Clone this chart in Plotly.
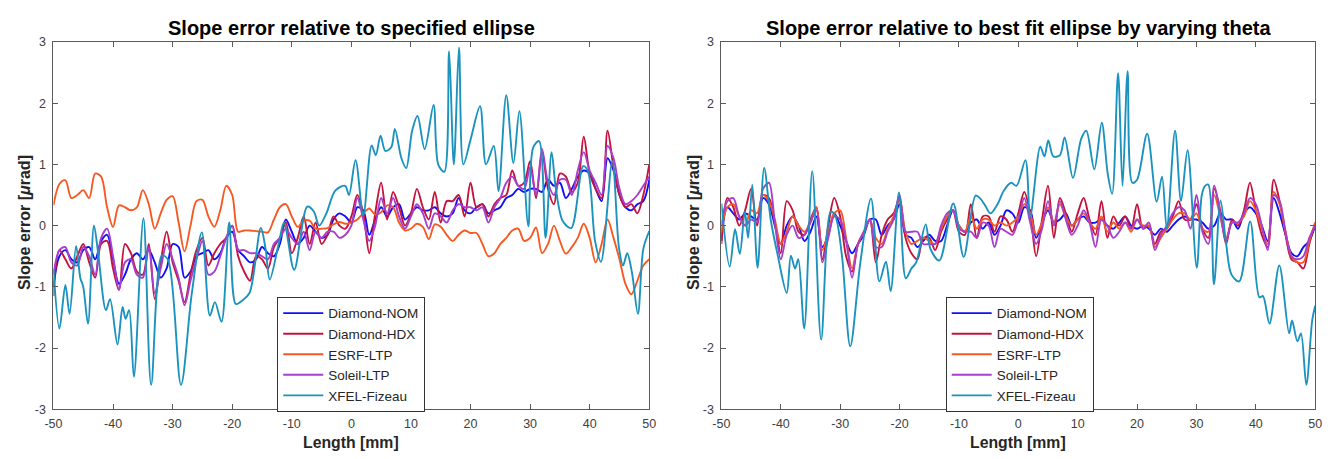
import plotly.graph_objects as go

# ---------------- data ----------------
length_mm = list(range(-50, 51))

series_names = ["Diamond-NOM", "Diamond-HDX", "ESRF-LTP", "Soleil-LTP", "XFEL-Fizeau"]
series_colors = ["#1010F5", "#C4143E", "#F65A24", "#A63FCB", "#1C93BE"]

# Left panel: slope error relative to specified ellipse (urad), 1 mm steps
left_nom = [
    -1.0, -0.5, -0.4, -0.55, -0.6, -0.4, -0.35, -0.55, -0.25, -0.15,
    -0.55, -0.95, -0.8, -0.55, -0.45, -0.55, -0.4, -0.6, -0.85, -0.7,
    -0.3, -0.35, -0.85, -0.75, -0.5, -0.45, -0.4, -0.55, -0.45, -0.2,
    -0.1, -0.4, -0.5, -0.6, -0.55, -0.35, -0.45, -0.5, -0.3, 0.1,
    -0.1, -0.3, -0.2, 0.0, -0.1, -0.2, -0.15, 0.1, 0.2, 0.15,
    0.05,
    0.3, 0.25, -0.15, 0.1, 0.3, 0.15, 0.3, 0.35, 0.1, 0.2,
    0.3, 0.25, 0.25, 0.3, 0.2, 0.15, 0.2, 0.45, 0.25, 0.2,
    0.3, 0.35, 0.2, 0.25, 0.3, 0.45, 0.5, 0.6, 0.55, 0.6,
    0.6, 0.55, 0.75, 0.65, 0.7, 0.45, 0.6, 0.8, 0.9, 0.85,
    0.6, 0.4, 1.1, 0.9, 0.5, 0.3, 0.25, 0.35, 0.4, 0.75,
]
left_hdx = [
    -1.15, -0.4, -0.55, -0.7, -0.5, -0.3, -0.6, -0.85, -0.3, -0.25,
    -0.7, -1.05, -0.3, -0.45, -0.75, -0.8, -0.3, -1.2, -0.6, -0.1,
    -0.6, -0.9, -1.25, -0.8, -0.4, -0.2, -0.65, -0.45, -0.3, -0.2,
    0.0, -0.5, -0.75, -0.9, -0.5, -0.55, -0.7, -0.35, -0.2, 0.05,
    -0.45, -0.2, 0.15, -0.3, 0.05, -0.3, -0.15, 0.15, 0.0, -0.05,
    0.15,
    0.5, 0.2, -0.45, 0.2, 0.7, 0.1, 0.55, 0.3, 0.0, 0.2,
    0.6, 0.3, 0.1, 0.55, 0.05, 0.4, 0.4, 0.5, 0.15, 0.7,
    0.3, 0.35, 0.15, 0.35, 0.45, 0.5, 0.9, 0.65, 0.7, 1.05,
    0.45, 1.2, 0.6, 0.35, 0.85, 0.8, 0.55, 0.7, 1.45, 0.85,
    0.6, 0.45, 1.55, 0.95, 0.5, 0.3, 0.35, 0.2, 0.5, 1.0,
]
left_esrf = [
    0.33, 0.68, 0.74, 0.45, 0.5, 0.58, 0.45, 0.85, 0.8, 0.3,
    -0.02, 0.33, 0.3, 0.25, 0.3, 0.58, 0.35, -0.05, 0.2, 0.42,
    0.48, 0.05, -0.42, 0.0, 0.4, 0.42, 0.15, -0.02, 0.25, 0.65,
    0.5, -0.1, -0.08, -0.08, -0.09, -0.1, -0.11, 0.1, 0.3, 0.35,
    0.15, -0.02, 0.08, 0.08, -0.05, -0.05, -0.04, 0.02, 0.06, 0.03,
    0.05,
    0.1, 0.2, 0.28, 0.18, 0.22, 0.33, 0.3, 0.05, -0.08, -0.05,
    0.03, -0.02, -0.22, 0.02, -0.02, -0.15, -0.25, -0.15, -0.08, -0.12,
    -0.12, -0.3, -0.5, -0.45, -0.3, -0.2, -0.08, -0.05, -0.25, -0.2,
    -0.03, -0.45, -0.3, 0.0, -0.25, -0.46, -0.35, -0.2, 0.03, -0.2,
    -0.6, -0.3, 0.1, -0.2, -0.55, -0.95, -1.12, -0.9, -0.65, -0.55,
]
left_soleil = [
    -0.8, -0.4, -0.35, -0.6, -0.65, -0.35, -0.5, -0.8, -0.2, -0.05,
    -0.5, -1.05, -0.6, -0.55, -0.8, -0.85, -0.35, -1.1, -0.7, -0.3,
    -0.55, -0.85, -1.3, -0.9, -0.55, -0.25, -0.8, -0.75, -0.5, -0.2,
    0.0, -0.4, -0.4, -0.45, -0.45, -0.5, -0.55, -0.3, -0.2, -0.05,
    -0.2, -0.3, -0.1, -0.4, -0.1, -0.2, -0.1, -0.1, -0.2, -0.15,
    0.0,
    0.45, 0.1, -0.25, 0.0, 0.45, 0.2, 0.45, 0.15, -0.05, 0.15,
    0.35, 0.2, -0.05, 0.2, 0.15, 0.05, 0.25, 0.35, 0.3, 0.3,
    0.25, 0.3, 0.05, 0.3, 0.45, 0.7, 0.8, 0.65, 0.6, 0.95,
    0.5, 1.25, 0.7, 0.5, 0.75, 0.75, 0.5, 0.9, 1.2, 0.9,
    0.7, 0.5, 1.3, 1.1, 0.6, 0.35, 0.4, 0.5, 0.65, 0.8,
]
left_xfel_len = [
    -50.0, -49.0, -48.0, -47.3, -46.2, -45.5, -45.0, -44.2, -43.2, -42.5,
    -41.2, -40.5, -39.25, -38.4, -37.9, -37.3, -36.5, -34.9, -33.6, -31.8,
    -30.8, -28.6, -26.8, -25.1, -23.75, -22.9, -21.8, -20.5, -19.4, -18.4,
    -17.1, -15.2, -14.4, -13.7, -12.2, -11.3, -9.6, -7.4, -6.3, -5.4,
    -4.2, -2.7, -1.05, -0.4, 0.7, 2.0, 3.4, 4.1, 4.9, 5.7,
    6.7, 7.3, 8.4, 9.2, 10.2, 11.1, 12.3, 13.8, 14.6, 15.6,
    16.4, 17.2, 18.06, 18.8, 20.0, 21.6, 22.6, 23.9, 24.7, 26.0,
    27.2, 28.2, 29.7, 30.5, 31.5, 32.6, 33.6, 34.3, 35.5, 36.9,
    38.9, 39.7, 40.9, 41.9, 43.8, 44.9, 45.6, 46.3, 47.1, 48.1,
    49.0, 50.0,
]
left_xfel = [
    -0.7, -1.68, -0.97, -1.44, -0.33, -0.85, -1.0, -1.6, 0.0, -0.45,
    -1.38, -1.2, -1.94, -1.33, -1.52, -1.38, -2.47, 0.12, -2.6, -0.49,
    -0.55, -2.6, -1.12, -0.11, -1.47, -1.25, -1.57, 0.05, -1.28, -1.23,
    -1.1, -0.04, -0.38, -0.88, -0.3, 0.05, -0.72, 0.31, 0.23, 0.0,
    0.2, 0.57, 0.65, 0.5, 1.07, 0.17, 1.31, 1.15, 1.47, 1.22,
    1.28, 1.58, 1.1, 0.94, 1.55, 1.79, 1.25, 1.97, 0.99, 0.88,
    2.85, 1.0, 2.91, 1.0, 1.4, 1.95, 1.0, 1.3, 0.56, 2.13,
    1.02, 1.87, -0.01, 1.27, 1.38, -0.2, 1.2, 0.62, 0.07, -0.04,
    0.97, 0.89, -0.25, -0.59, 1.05, -0.35, -0.65, -0.45, -0.77, -1.44,
    -0.38, -0.09,
]

# Right panel: slope error relative to best fit ellipse by varying theta
right_nom = [
    -0.25, 0.3, 0.2, 0.1, 0.2, 0.15, 0.1, 0.45, 0.35, 0.0,
    -0.3, 0.0, 0.15, 0.0, -0.25, -0.1, 0.15, -0.35, -0.15, 0.2,
    0.0, -0.25, -0.45, -0.3, -0.15, 0.1, 0.1, -0.15, 0.0, 0.1,
    0.35, -0.15, -0.2, -0.35, -0.25, -0.15, -0.25, -0.25, 0.0, 0.25,
    0.0, -0.1, 0.05, 0.1, -0.05, 0.05, -0.15, 0.0, 0.25, 0.2,
    0.05,
    0.3, 0.25, -0.2, 0.05, 0.25, 0.05, 0.1, 0.2, 0.0, 0.1,
    0.15, 0.05, 0.05, 0.1, 0.0, -0.05, 0.05, 0.15, 0.0, -0.05,
    0.0, -0.05, -0.15, -0.05, -0.1, 0.0, 0.1, 0.15, 0.1, 0.1,
    0.05, -0.05, 0.0, 0.2, 0.1, 0.1, -0.05, 0.2, 0.3, 0.2,
    0.0, -0.25, 0.45, 0.2, -0.15, -0.45, -0.5, -0.35, -0.25, 0.0,
]
right_hdx = [
    -0.3, 0.45, 0.3, 0.0, 0.25, 0.6, 0.0, 0.5, 0.45, 0.05,
    -0.45, 0.4, 0.25, -0.1, -0.15, 0.1, 0.3, -0.55, 0.0, 0.45,
    0.15, -0.5, -0.75, -0.3, -0.1, 0.1, -0.6, -0.15, 0.1, 0.2,
    0.45, -0.2, -0.45, -0.55, -0.2, -0.2, -0.4, -0.1, 0.1, 0.25,
    -0.1, -0.15, 0.35, -0.2, 0.15, 0.15, -0.1, 0.15, 0.1, -0.1,
    0.2,
    0.55, 0.2, -0.5, 0.1, 0.65, -0.2, 0.45, 0.2, -0.1, 0.2,
    0.45, 0.1, -0.15, 0.4, -0.2, 0.15, 0.0, 0.15, -0.05, 0.35,
    -0.05, 0.0, -0.3, -0.1, -0.05, 0.15, 0.4, 0.1, 0.1, 0.35,
    -0.05, -0.2, 0.6, 0.25, -0.3, 0.1, 0.0, 0.25, 0.7, 0.25,
    -0.15, -0.35, 0.75, 0.4, -0.15, -0.55, -0.6, -0.7, -0.3, 0.05,
]
right_esrf = [
    -0.1, 0.3, 0.35, 0.15, 0.0, 0.25, 0.2, 0.5, 0.4, 0.1,
    -0.3, -0.1, 0.15, 0.0, -0.1, 0.05, 0.3, -0.4, -0.1, 0.2,
    0.25, -0.2, -0.7, -0.3, -0.1, 0.1, -0.2, -0.3, -0.05, 0.15,
    0.4, -0.1, -0.3, -0.25, -0.2, -0.25, -0.3, -0.05, 0.15, 0.25,
    0.0, -0.1, 0.15, -0.05, 0.1, 0.1, 0.0, 0.05, 0.0, 0.05,
    0.15,
    0.35, 0.2, -0.15, 0.05, 0.3, 0.05, 0.35, 0.15, 0.0, 0.1,
    0.2, 0.05, -0.05, 0.15, -0.1, 0.05, -0.05, 0.05, -0.1, 0.1,
    0.0, 0.0, -0.35, -0.2, -0.05, 0.1, 0.2, 0.2, 0.1, 0.2,
    -0.05, -0.1, 0.5, 0.15, -0.2, 0.05, 0.05, 0.15, 0.4, 0.25,
    -0.05, -0.3, 0.55, 0.35, -0.1, -0.5, -0.6, -0.6, -0.25, 0.05,
]
right_soleil = [
    0.0, 0.4, 0.45, 0.15, 0.0, 0.1, 0.05, 0.6, 0.7, 0.05,
    -0.55, -0.15, 0.0, -0.2, -0.15, 0.05, 0.25, -0.6, -0.2, 0.15,
    0.1, -0.25, -0.85, -0.3, -0.1, 0.1, -0.35, -0.35, -0.1, 0.1,
    0.5, -0.1, -0.1, -0.1, -0.3, -0.3, -0.3, 0.0, 0.2, 0.25,
    -0.05, -0.1, -0.1, -0.2, 0.05, 0.0, -0.35, -0.05, -0.1, -0.15,
    0.1,
    0.45, 0.05, -0.3, -0.05, 0.4, 0.0, 0.4, 0.1, -0.15, 0.0,
    0.25, 0.05, -0.35, 0.1, 0.0, -0.2, -0.1, 0.05, -0.05, 0.1,
    -0.05, 0.05, -0.4, -0.15, 0.0, 0.2, 0.3, 0.25, -0.05, 0.5,
    -0.1, -0.3, 0.65, 0.2, -0.25, 0.05, 0.05, 0.2, 0.45, 0.35,
    0.0, -0.4, 0.5, 0.4, -0.1, -0.5, -0.55, -0.5, -0.2, 0.0,
]
right_xfel_len = [
    -50.0, -48.6, -47.7, -46.9, -46.05, -45.5, -44.8, -43.9, -42.8, -41.7,
    -40.5, -39.0, -38.3, -37.6, -37.05, -36.05, -34.7, -33.2, -31.6, -30.8,
    -29.7, -28.3, -26.6, -24.8, -23.4, -22.3, -21.5, -20.1, -18.95, -18.0,
    -17.2, -15.6, -14.8, -13.3, -10.95, -9.2, -7.2, -6.4, -5.6, -4.7,
    -3.5, -2.45, -1.2, -0.3, 1.2, 2.0, 3.7, 4.4, 5.05, 5.9,
    7.0, 7.8, 9.2, 10.6, 11.45, 12.8, 14.05, 15.05, 15.8, 16.8,
    17.55, 18.4, 19.2, 20.0, 21.7, 23.3, 24.2, 25.0, 26.4, 27.4,
    28.5, 30.05, 30.9, 31.45, 32.0, 32.95, 34.05, 35.0, 35.9, 37.2,
    39.05, 40.6, 41.2, 42.3, 43.95, 45.6, 46.1, 47.0, 47.6, 48.5,
    49.5, 50.0,
]
right_xfel = [
    0.36, -0.67, -0.06, -0.46, 0.23, -0.2, 0.67, -0.69, 0.94, 0.1,
    -0.49, -1.1, -0.49, -0.7, -0.55, -1.68, 0.89, -1.86, 0.23, 0.15,
    -0.49, -1.97, -0.6, 0.44, -0.91, -0.59, -1.07, 0.54, -0.86, -0.7,
    -0.6, 0.02, -0.38, -0.57, 0.36, -0.51, 0.49, 0.44, 0.33, 0.2,
    0.35, 0.57, 0.7, 0.65, 1.07, 0.15, 1.29, 1.13, 1.39, 1.13,
    1.15, 1.44, 0.78, 1.42, 1.55, 0.92, 1.68, 0.85, 0.52, 2.49,
    0.65, 2.52, 0.7, 0.75, 1.5, 0.39, 0.8, -0.05, 1.55, 0.4,
    1.23, -0.69, 0.5, 0.65, 0.67, -0.96, 0.41, -0.3, -0.8, -0.91,
    0.07, -1.17, -1.15, -1.6, -0.65, -1.76, -1.55, -1.89, -1.76, -2.6,
    -1.54, -1.31,
]

x_tick_vals = [-50, -40, -30, -20, -10, 0, 10, 20, 30, 40, 50]
x_tick_text = ["-50", "-40", "-30", "-20", "-10", "0", "10", "20", "30", "40", "50"]
y_tick_vals = [-3, -2, -1, 0, 1, 2, 3]
y_tick_text = ["-3", "-2", "-1", "0", "1", "2", "3"]

panel_titles = ["Slope error relative to specified ellipse",
                "Slope error relative to best fit ellipse by varying theta"]
x_title = "Length [mm]"
y_title = "Slope error [<i>μ</i>rad]"

# ---------------- figure ----------------
W, H = 1341, 459
FONT = "Liberation Sans, Arial, sans-serif"
AX = "#5a5a5a"

fig = go.Figure()

panels = [
    ("x", "y", "legend",
     [(length_mm, left_nom), (length_mm, left_hdx), (length_mm, left_esrf),
      (length_mm, left_soleil), (left_xfel_len, left_xfel)]),
    ("x2", "y2", "legend2",
     [(length_mm, right_nom), (length_mm, right_hdx), (length_mm, right_esrf),
      (length_mm, right_soleil), (right_xfel_len, right_xfel)]),
]
for xa, ya, lg, data in panels:
    for (xs, ys), name, col in zip(data, series_names, series_colors):
        fig.add_trace(go.Scatter(
            x=xs, y=ys, name=name, xaxis=xa, yaxis=ya, legend=lg,
            mode="lines", line=dict(color=col, width=1.9, shape="spline", smoothing=0.9),
            hoverinfo="skip"))

def px_x(p):
    return p / W

def px_y(p):
    return 1 - p / H

y_dom = [px_y(415), px_y(36)]
x_doms = [[px_x(45), px_x(648)], [px_x(721), px_x(1322)]]

axis_common = dict(
    showline=True, linecolor=AX, linewidth=1, mirror="ticks",
    ticks="inside", ticklen=5, tickwidth=1, tickcolor=AX,
    showgrid=False, zeroline=False,
    tickfont=dict(family=FONT, size=12.5, color="#404040"),
)

for i, (xd) in enumerate(x_doms):
    sfx = "" if i == 0 else "2"
    fig.layout["xaxis" + sfx] = dict(
        domain=xd, anchor="y" + sfx, range=[-50, 50],
        tickmode="array", tickvals=x_tick_vals, ticktext=x_tick_text,
        ticklabelstandoff=3,
        **axis_common)
    fig.layout["yaxis" + sfx] = dict(
        domain=y_dom, anchor="x" + sfx, range=[-3, 3],
        tickmode="array", tickvals=y_tick_vals, ticktext=y_tick_text,
        ticklabelstandoff=4,
        **axis_common)

legend_common = dict(
    bgcolor="white", bordercolor="#333333", borderwidth=1,
    font=dict(family=FONT, size=13.5, color="#262626"),
    xanchor="left", yanchor="top", tracegroupgap=0, itemwidth=40,
)
fig.layout.legend = dict(x=px_x(271.5), y=px_y(299), **legend_common)
fig.layout.legend2 = dict(x=px_x(948), y=px_y(299), **legend_common)

annotations = []
for i, xd in enumerate(x_doms):
    cx = (xd[0] + xd[1]) / 2
    annotations.append(dict(
        text="<b>" + panel_titles[i] + "</b>", x=cx, y=px_y(21.5), xref="paper", yref="paper",
        xanchor="center", yanchor="middle", showarrow=False,
        font=dict(family=FONT, size=20, color="#000000")))
    annotations.append(dict(
        text="<b>" + x_title + "</b>", x=cx, y=px_y(449), xref="paper", yref="paper",
        xanchor="center", yanchor="middle", showarrow=False,
        font=dict(family=FONT, size=15.8, color="#262626")))
    annotations.append(dict(
        text="<b>" + y_title + "</b>", x=px_x(15 if i == 0 else 692), y=px_y(222),
        xref="paper", yref="paper", xanchor="center", yanchor="middle",
        textangle=-90, showarrow=False,
        font=dict(family=FONT, size=16, color="#262626")))

fig.update_layout(
    width=W, height=H, autosize=False,
    margin=dict(l=0, r=0, t=0, b=0),
    paper_bgcolor="white", plot_bgcolor="white",
    showlegend=True, annotations=annotations,
)

fig.write_html("out.html", config={"displayModeBar": False})
